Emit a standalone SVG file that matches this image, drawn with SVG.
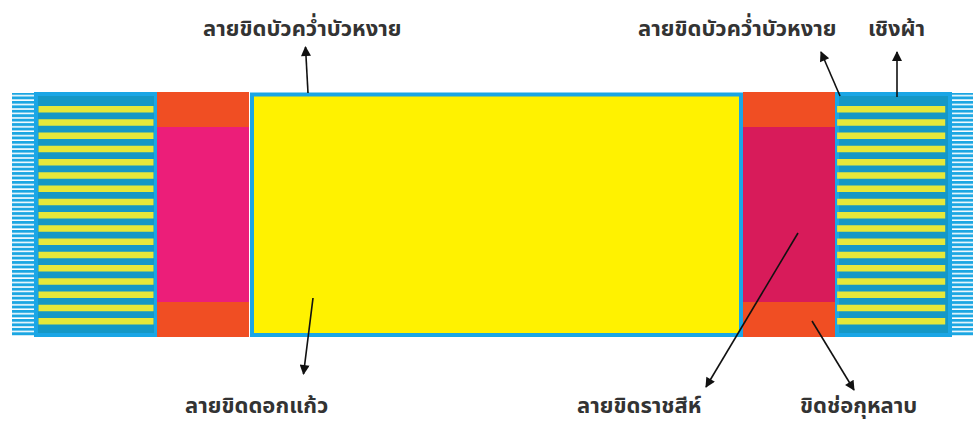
<svg xmlns="http://www.w3.org/2000/svg" width="973" height="432" viewBox="0 0 973 432">
<defs>
<style>
.lbl{font-family:"Noto Sans Thai","Noto Sans","Liberation Sans",sans-serif;font-size:22px;font-weight:bold;fill:#333}
.frame{fill:#1598c6;stroke:#1aa6e6;stroke-width:4}
.ys{fill:#e6e83a}
.org{fill:#f04e23}
.con{stroke:#111;stroke-width:1.6;fill:none;marker-end:url(#ah)}
</style>
<pattern id="fringe" x="0" y="92" width="10" height="4.45" patternUnits="userSpaceOnUse">
<rect x="0" y="0" width="10" height="4.45" fill="#ffffff"/>
<rect x="0" y="0" width="10" height="2.9" fill="#1ba6e2"/>
</pattern>
<marker id="ah" viewBox="0 0 10 10" refX="9" refY="5" markerWidth="13" markerHeight="10" markerUnits="userSpaceOnUse" orient="auto">
<path d="M0,0 L10,5 L0,10 z" fill="#111"/>
</marker>
<g id="stripes">
<rect x="0" y="106" width="115" height="6.5" class="ys"/>
<rect x="0" y="119.25" width="115" height="6.5" class="ys"/>
<rect x="0" y="132.5" width="115" height="6.5" class="ys"/>
<rect x="0" y="145.75" width="115" height="6.5" class="ys"/>
<rect x="0" y="159" width="115" height="6.5" class="ys"/>
<rect x="0" y="172.25" width="115" height="6.5" class="ys"/>
<rect x="0" y="185.5" width="115" height="6.5" class="ys"/>
<rect x="0" y="198.75" width="115" height="6.5" class="ys"/>
<rect x="0" y="212" width="115" height="6.5" class="ys"/>
<rect x="0" y="225.25" width="115" height="6.5" class="ys"/>
<rect x="0" y="238.5" width="115" height="6.5" class="ys"/>
<rect x="0" y="251.75" width="115" height="6.5" class="ys"/>
<rect x="0" y="265" width="115" height="6.5" class="ys"/>
<rect x="0" y="278.25" width="115" height="6.5" class="ys"/>
<rect x="0" y="291.5" width="115" height="6.5" class="ys"/>
<rect x="0" y="304.75" width="115" height="6.5" class="ys"/>
<rect x="0" y="318" width="115" height="6.5" class="ys"/>
</g>
</defs>
<rect width="973" height="432" fill="#fff"/>

<g id="fringe-left"><rect x="12" y="93" width="23" height="243" fill="url(#fringe)"/></g>
<g id="fringe-right"><rect x="952" y="93" width="21" height="243" fill="url(#fringe)"/></g>

<g id="border-left">
<rect x="36" y="94" width="120" height="241" class="frame"/>
<use href="#stripes" x="38.5"/>
</g>

<g id="panel-left">
<rect x="157" y="92" width="92" height="245" fill="#ec1e79"/>
<rect x="157" y="92" width="92" height="35" class="org"/>
<rect x="157" y="302" width="92" height="35" class="org"/>
</g>

<g id="center">
<rect x="252" y="94.5" width="489" height="240.5" fill="#fff200" stroke="#1aa6e6" stroke-width="4"/>
</g>

<g id="panel-right">
<rect x="743" y="92" width="92" height="245" fill="#d81b5a"/>
<rect x="743" y="92" width="92" height="35" class="org"/>
<rect x="743" y="302" width="92" height="35" class="org"/>
</g>

<g id="border-right">
<rect x="837" y="94" width="113" height="241" class="frame"/>
<use href="#stripes" x="837" transform="translate(839,0) scale(0.94,1) translate(-839,0)"/>
</g>

<g id="connectors">
<line x1="308" y1="93" x2="305.5" y2="47" class="con"/>
<line x1="840" y1="96" x2="821" y2="52" class="con"/>
<line x1="897" y1="97" x2="897" y2="52" class="con"/>
<line x1="313" y1="298" x2="303.5" y2="374" class="con"/>
<line x1="798" y1="233" x2="706" y2="387" class="con"/>
<line x1="812" y1="321" x2="854" y2="390" class="con"/>
</g>

<g id="labels">
<text x="203" y="36" class="lbl">ลายขิดบัวคว่ำบัวหงาย</text>
<text x="638" y="36" class="lbl">ลายขิดบัวคว่ำบัวหงาย</text>
<text x="868" y="36" class="lbl">เชิงผ้า</text>
<text x="185" y="413" class="lbl">ลายขิดดอกแก้ว</text>
<text x="577" y="413" class="lbl">ลายขิดราชสีห์</text>
<text x="800" y="413" class="lbl">ขิดช่อกุหลาบ</text>
</g>
</svg>
